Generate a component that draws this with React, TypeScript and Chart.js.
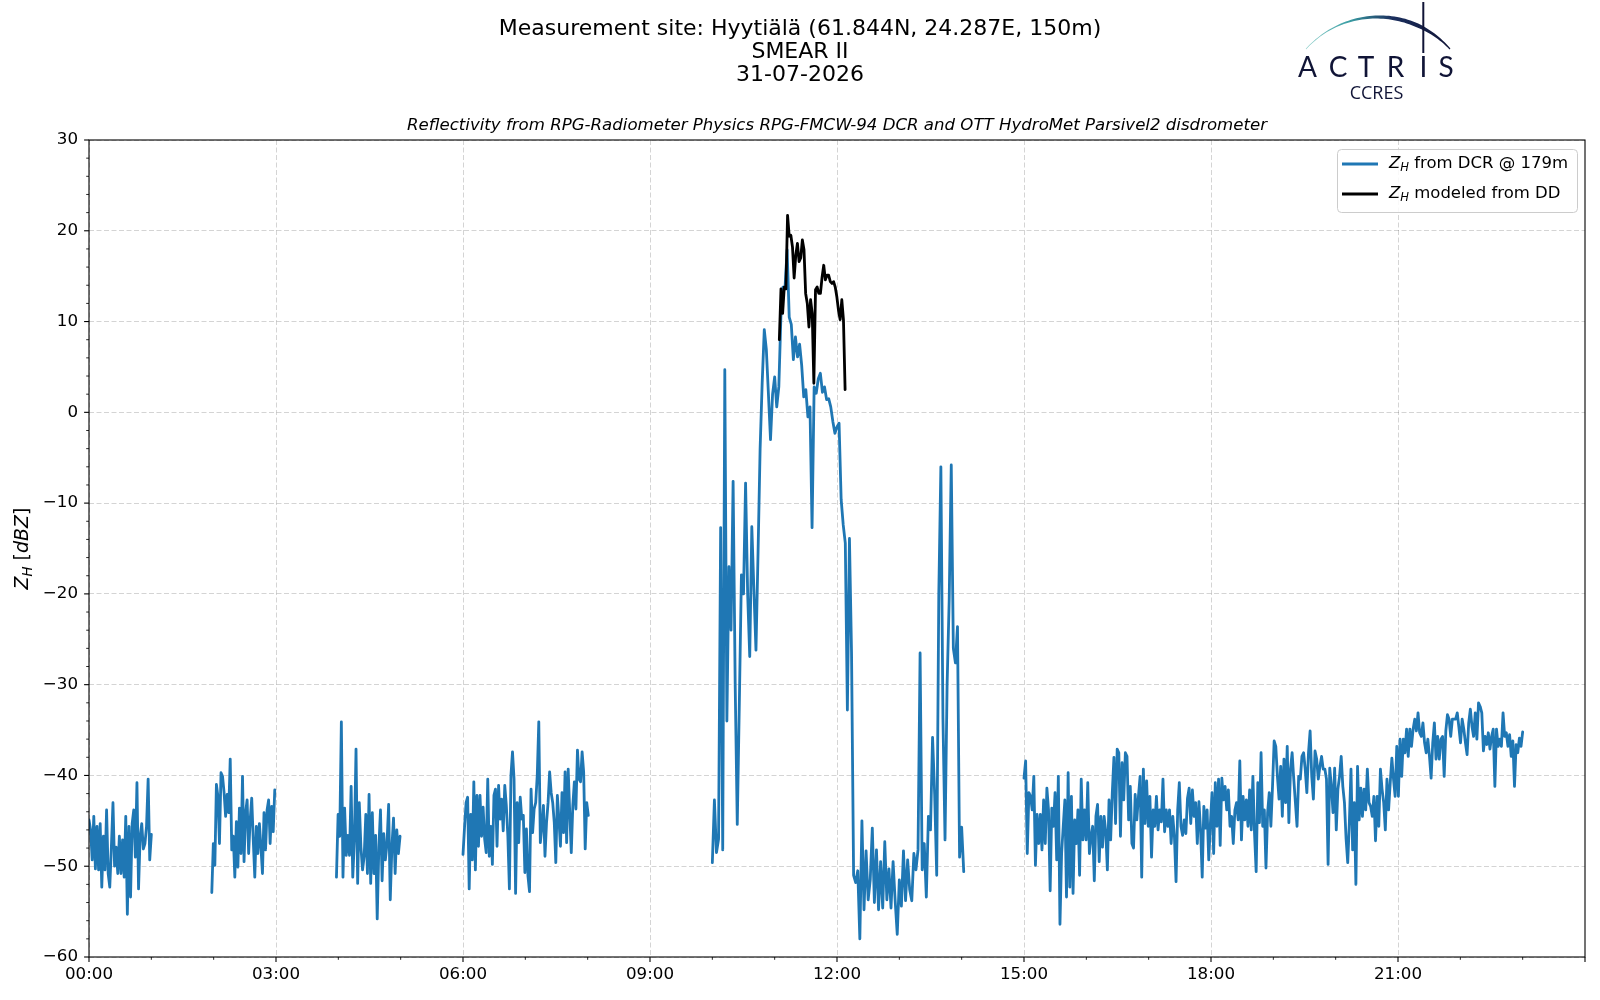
import * as React from "react";
import { useEffect, useRef } from "react";
import { Chart, registerables } from "chart.js";

const BLUE = "#1f77b4";
const NAVY = "#101436";
const FONT = '"DejaVu Sans", sans-serif';

// Z_H from the DCR (dBZ); each segment is [start hour, end hour] + evenly spaced samples
const dcrSeg1Hours = [0.0, 1.0];
const dcrSeg1 = [-44.9, -46, -49.3, -44.5, -50.3, -45.6, -50.4, -45.3, -52.3, -46.7, -50.4, -43.8, -50.8, -52.3, -47.9, -43, -50, -47.9, -50.8, -46.7, -50.8, -47.1, -51.2, -44.5, -55.3, -45.6, -53.4, -45.3, -43.8, -49, -40.8, -52.5, -46.7, -45.3, -48.1, -47.5, -45.6, -40.4, -49.3, -46.5];

const dcrSeg2Hours = [1.97, 2.98];
const dcrSeg2 = [-52.9, -47.5, -49.9, -41, -42.3, -47.5, -39.7, -40.1, -41.9, -44.5, -42.1, -44.1, -38.2, -48.2, -46.7, -51.2, -45.1, -50.1, -43.6, -48.6, -40.1, -49.5, -44.1, -42.7, -48.6, -44.9, -42.5, -47.1, -51.2, -45.6, -48.6, -45.3, -47.9, -50.8, -44.1, -48.2, -43.8, -42.7, -47.5, -43.4, -46.2, -41.6];

const dcrSeg3Hours = [3.97, 4.99];
const dcrSeg3 = [-51.2, -44.3, -46.7, -34.1, -51.2, -43.6, -48.8, -46.6, -48.8, -41.2, -51.2, -47.1, -37.1, -51.9, -43, -47.9, -50.4, -48.9, -44.3, -50.8, -42.1, -51.9, -44.1, -50.8, -46.6, -55.8, -47.9, -43.8, -51.6, -46.4, -49.3, -47.5, -43.2, -53.7, -47.9, -44.7, -50.8, -46, -48.6, -46.7];

const dcrSeg4Hours = [6.0, 8.01];
const dcrSeg4 = [-48.7, -45.7, -43, -42.4, -52.5, -44.3, -49.3, -40.7, -50.4, -42.2, -47.8, -42.2, -46.7, -43.5, -47, -48.5, -40.4, -48.9, -45.6, -49.8, -42.2, -41.5, -47.8, -41.1, -44.8, -42.6, -46.1, -41.1, -43.3, -46.7, -52.5, -40, -37.4, -40.4, -53, -43, -47.4, -42.4, -44.8, -44.4, -50.7, -45.9, -51.1, -52.8, -41.5, -46.3, -43.7, -43, -40, -34.1, -47.4, -45.6, -43.3, -48.9, -45.2, -43, -39.6, -41.9, -43, -45.2, -49.6, -42.2, -44.8, -47.8, -41.9, -46.3, -39.6, -47.4, -39.3, -44.1, -48.5, -43.3, -40.7, -43.7, -37.2, -40.4, -40.7, -37.4, -39.6, -48.1, -43, -44.4];

const dcrSeg5Hours = [10.0, 14.033];
const dcrSeg5 = [
  -49.6, -42.7, -48.5, -47, -12.7, -48.2, 4.7, -34, -17, -24,
  -7.6, -30, -45.4, -32, -17.9, -20, -7.8, -20, -26.9, -12.6,
  -19.5, -26.2, -15.5, -4, 3.3, 9.1, 6.9, 2, -3, 2,
  3.9, 0.6, 2.8, 10.5, 13.8, 13.8, 17.9, 10.5, 9.7, 5.8,
  8.3, 6.1, 7.5, 5.2, 1.7, 2.5, -0.5, 0.6, -12.7, 2.8,
  2.1, 3.7, 4.3, 2.2, 2.8, 1.4, 1.5, 0.6, -1, -2.3,
  -1.6, -1.2, -9.6, -12.4, -14.4, -32.8, -13.9, -26.5, -51, -51.8,
  -50.5, -58, -45, -54.8, -48.3, -53.7, -51.5, -45.8, -54, -48.2,
  -54.8, -49.5, -54.6, -47.3, -53.7, -50.3, -54.6, -49.5, -53.8, -57.5,
  -51.5, -54.4, -48.3, -53.8, -49.3, -52.6, -53.8, -48.6, -50.4, -48.2,
  -26.5, -50.4, -47.5, -53.4, -44.5, -46, -35.8, -42, -51, -20,
  -6, -33.7, -47.1, -30, -20.7, -5.8, -26, -27.6, -23.6, -49,
  -45.7, -50.6,
];

const dcrSeg6Hours = [15.0, 23.0];
const dcrSeg6 = [
  -40.3, -38.4, -48.6, -41.9, -42.3, -43.8, -40.1, -49.9, -44.3, -47.5, -44.3, -48.2, -42.7, -47.5, -41.4, -43.8, -52.7, -43.6, -45.6, -41.9,
  -49.3, -40.1, -56.4, -48.6, -45.6, -42.7, -53.4, -39.7, -52.3, -42.3, -53, -44.9, -47.5, -43.8, -51, -40.4, -47.1, -43.8, -47.1, -40.8,
  -48.6, -46.7, -45.6, -51.6, -44.5, -43.2, -49.5, -44.5, -47.9, -44.5, -46.2, -50.4, -42.7, -47.1, -41.9, -38, -45.3, -37.1, -37.5, -46.7,
  -38.6, -42.7, -37.5, -37.9, -44.9, -41.2, -47.5, -48, -42.1, -44.9, -42.3, -40.1, -51.2, -39.3, -45.3, -40.6, -45.6, -42.3, -49, -43.8,
  -45.6, -42.3, -46, -43.8, -45.1, -40.4, -46.2, -43.8, -45.6, -43.8, -47.5, -44.5, -46.7, -51.7, -43.8, -40.8, -45.6, -46.6, -44.9, -46.4,
  -42.5, -41.4, -45.3, -41.6, -44.5, -43, -47.5, -42.9, -46, -51.2, -43.4, -45.8, -43.8, -49.3, -45.3, -41.9, -48.6, -40.8, -45.6, -40.4,
  -47.7, -40.3, -42.7, -41.2, -43.8, -41.6, -45.6, -44.5, -47.5, -43.8, -43, -44.9, -38.4, -47.1, -42.3, -44.9, -42.7, -45.6, -41.6, -46,
  -40.1, -46.4,
  -50.6, -40.8, -45.2, -37.5, -45.6, -43.8, -50.2, -44.1, -41.9, -45.6, -41.2, -36.2, -36.8, -40.1, -42.6, -39, -44.5, -38.2, -43, -36.8,
  -45.2, -39.3, -37.5, -40.4, -43, -45.6, -40.1, -40.4, -37.9, -37.5, -39.3, -41.9, -37.5, -35.1, -40.1, -42.6, -37.3, -38.2, -40.4, -39,
  -37.9, -39.3, -39.3, -40.4, -49.8, -39.2, -41.2, -44.1, -39.2, -46, -41.5, -40.1, -37.9, -41.2, -43, -47, -49.6, -45.2, -39.3, -48.2,
  -43, -52, -39, -44.9, -41.4, -44.5, -41.5, -43.8, -39.3, -43, -43.4, -44.5, -42.3, -47.2, -42.3, -45.6, -39.3, -41.5, -43, -46,
  -40.4, -43.8, -40.8, -38.1, -40.4, -42.3, -36.8, -42.3, -36, -40.1, -36, -37.5, -34.9, -37.9, -34.9, -36.8, -34.9, -33.8, -35.1, -33.1,
  -35.3, -35.7, -34.2, -36.4, -37.5, -36, -37.9, -40.3, -36.4, -34.2, -38.2, -35.7, -38.2, -36, -35.7, -40.1, -35.1, -33.3, -33.8, -35.7,
  -33.8, -33.8, -33.8, -33.1, -34.7, -36.4, -33.8, -34.9, -36.4, -37.7, -34.2, -32.7, -34.6, -35.7, -33.1, -36, -32, -32.4, -33.1, -37.3,
  -35.7, -36.6, -35.3, -37.1, -35.7, -34.9, -41.2, -34.9, -36.8, -36, -36.8, -33.1, -35.7, -35.3,
  -36.8, -35.5, -37.9, -36.2, -41.2, -36.6, -37.5, -35.9, -36.8, -35.2,
];

// Z_H modeled from the disdrometer drop size distribution (dBZ)
const ddHours = [11.075, 12.13];
const ddValues = [8, 13.6, 10.9, 13.8, 13.6, 21.7, 19.4, 19.5, 18.2, 14.8, 17.3, 18.6, 16.6, 17, 19, 17.9, 13.1, 12, 9.4, 12.4, 10.9, 3.2, 13.5, 13.8, 13.1, 13.1, 14.9, 16.2, 14.6, 15.1, 15.1, 14.4, 14.2, 14.4, 13.8, 12.7, 11.2, 10.2, 12.4, 10.2, 2.5];

const xTickHours = [0, 3, 6, 9, 12, 15, 18, 21];
const yTicks = [-60, -50, -40, -30, -20, -10, 0, 10, 20, 30];

const titleLines = ["Measurement site: Hyytiälä (61.844N, 24.287E, 150m)", "SMEAR II", "31-07-2026"];
const subtitle = "Reflectivity from RPG-Radiometer Physics RPG-FMCW-94 DCR and OTT HydroMet Parsivel2 disdrometer";

type Pt = { x: number; y: number | null };

function spread(range: number[], values: number[]): Pt[] {
    const [a, b] = range;
    return values.map((v, i) => ({ x: a + ((b - a) * i) / (values.length - 1), y: v }));
}

function joinSegments(segs: Pt[][]): Pt[] {
    const out: Pt[] = [];
    segs.forEach((s, i) => {
        if (i > 0) out.push({ x: (out[out.length - 1].x + s[0].x) / 2, y: null });
        out.push(...s);
    });
    return out;
}

type Part = { t: string; it?: boolean; sub?: boolean };

function partFont(p: Part, size: number) {
    return `${p.it ? "italic " : ""}${p.sub ? size * 0.7 : size}px ${FONT}`;
}

function drawRich(ctx: CanvasRenderingContext2D, parts: Part[], x: number, y: number, size: number, align: "left" | "center") {
    const widths = parts.map((p) => {
        ctx.font = partFont(p, size);
        return ctx.measureText(p.t).width;
    });
    const total = widths.reduce((s, w) => s + w, 0);
    let cx = align === "center" ? x - total / 2 : x;
    ctx.textAlign = "left";
    ctx.textBaseline = "middle";
    parts.forEach((p, i) => {
        ctx.font = partFont(p, size);
        ctx.fillText(p.t, cx, y + (p.sub ? size * 0.24 : 0));
        cx += widths[i];
    });
}

function line(ctx: CanvasRenderingContext2D, x1: number, y1: number, x2: number, y2: number) {
    ctx.beginPath();
    ctx.moveTo(x1, y1);
    ctx.lineTo(x2, y2);
    ctx.stroke();
}

function drawLogo(ctx: CanvasRenderingContext2D) {
    // arc over the lettering, thickening toward the right
    const cx = 1378, cy = 114, r = 97;
    const a0 = Math.atan2(49 - cy, 1306 - cx);
    const a1 = Math.atan2(49 - cy, 1450 - cx);
    const outer: number[][] = [];
    const inner: number[][] = [];
    const n = 60;
    for (let i = 0; i <= n; i++) {
        const t = i / n;
        const a = a0 + (a1 - a0) * t;
        const w = 0.6 + 3.4 * Math.pow(Math.sin(Math.PI * Math.min(1, t / 0.75) * 0.5), 2) * (t > 0.75 ? 1 - (t - 0.75) / 0.3 : 1);
        outer.push([cx + (r + w / 2) * Math.cos(a), cy + (r + w / 2) * Math.sin(a)]);
        inner.push([cx + (r - w / 2) * Math.cos(a), cy + (r - w / 2) * Math.sin(a)]);
    }
    const g = ctx.createLinearGradient(1306, 0, 1450, 0);
    g.addColorStop(0, "#8fd0cb");
    g.addColorStop(0.3, "#3a9ea4");
    g.addColorStop(0.6, "#1b2f5e");
    g.addColorStop(1, NAVY);
    ctx.fillStyle = g;
    ctx.beginPath();
    outer.forEach(([x, y], i) => (i ? ctx.lineTo(x, y) : ctx.moveTo(x, y)));
    inner.reverse().forEach(([x, y]) => ctx.lineTo(x, y));
    ctx.closePath();
    ctx.fill();

    ctx.strokeStyle = NAVY;
    ctx.lineWidth = 2;
    line(ctx, 1423.3, 2, 1423.3, 53);

    ctx.fillStyle = NAVY;
    ctx.font = '28px Lato, "DejaVu Sans", sans-serif';
    ctx.textAlign = "center";
    ctx.textBaseline = "alphabetic";
    const letters = ["A", "C", "T", "R", "I", "S"];
    const centers = [1307.5, 1338, 1366, 1395.5, 1423.3, 1446];
    letters.forEach((l, i) => ctx.fillText(l, centers[i], 77));
    ctx.font = '18px "Open Sans", sans-serif';
    ctx.fillText("CCRES", 1376.5, 99);
}

const decorations = {
    id: "decorations",
    afterDraw(chart: any) {
        const { ctx, chartArea: a, scales } = chart;
        const xs = scales.x;
        const ys = scales.y;
        ctx.save();
        ctx.setLineDash([]);
        ctx.strokeStyle = "#000";

        // ticks: major every 3 h / 10 dBZ, minor every 1 h / 2 dBZ
        for (let h = 0; h <= 24; h++) {
            const x = xs.getPixelForValue(h);
            const major = h % 3 === 0;
            ctx.lineWidth = major ? 1.1 : 0.85;
            line(ctx, x, a.bottom, x, a.bottom + (major ? 4.9 : 2.8));
        }
        for (let v = -60; v <= 30; v += 2) {
            const y = ys.getPixelForValue(v);
            const major = v % 10 === 0;
            ctx.lineWidth = major ? 1.1 : 0.85;
            line(ctx, a.left, y, a.left - (major ? 4.9 : 2.8), y);
        }

        // frame
        ctx.lineWidth = 1.1;
        ctx.strokeRect(a.left, a.top, a.right - a.left, a.bottom - a.top);

        // titles
        ctx.fillStyle = "#000";
        ctx.textAlign = "center";
        ctx.textBaseline = "middle";
        ctx.font = `22px ${FONT}`;
        titleLines.forEach((t, i) => ctx.fillText(t, 800, 29.5 + i * 23));
        ctx.font = `italic 16.6px ${FONT}`;
        ctx.fillText(subtitle, (a.left + a.right) / 2, 126);

        // y label
        ctx.save();
        ctx.translate(23.5, (a.top + a.bottom) / 2);
        ctx.rotate(-Math.PI / 2);
        drawRich(ctx, [{ t: "Z", it: true }, { t: "H", it: true, sub: true }, { t: " [" }, { t: "dBZ", it: true }, { t: "]" }], 0, 0, 19, "center");
        ctx.restore();

        // legend
        const lx = 1337, ly = 149, lw = 240, lh = 63;
        ctx.fillStyle = "rgba(255,255,255,0.85)";
        ctx.strokeStyle = "#cccccc";
        ctx.lineWidth = 1;
        ctx.beginPath();
        ctx.roundRect(lx + 0.5, ly + 0.5, lw, lh, 4);
        ctx.fill();
        ctx.stroke();
        const rows = [
            { color: BLUE, parts: [{ t: "Z", it: true }, { t: "H", it: true, sub: true }, { t: " from DCR @ 179m" }] },
            { color: "#000", parts: [{ t: "Z", it: true }, { t: "H", it: true, sub: true }, { t: " modeled from DD" }] },
        ];
        rows.forEach((r, i) => {
            const y = 164 + i * 30;
            ctx.strokeStyle = r.color;
            ctx.lineWidth = 2.8;
            line(ctx, 1342, y, 1378, y);
            ctx.fillStyle = "#000";
            drawRich(ctx, r.parts, 1389, y, 16.5, "left");
        });

        drawLogo(ctx);
        ctx.restore();
    },
};

function App() {
    const canvasRef = useRef<HTMLCanvasElement>(null);
    useEffect(() => {
        const ctx = canvasRef.current?.getContext("2d");
        if (!ctx) return;
        Chart.register(...registerables);

        const dcrPoints = joinSegments([
            spread(dcrSeg1Hours, dcrSeg1),
            spread(dcrSeg2Hours, dcrSeg2),
            spread(dcrSeg3Hours, dcrSeg3),
            spread(dcrSeg4Hours, dcrSeg4),
            spread(dcrSeg5Hours, dcrSeg5),
            spread(dcrSeg6Hours, dcrSeg6),
        ]);
        const ddPoints = spread(ddHours, ddValues);

        const tickFont = { family: FONT, size: 16.7 };
        const gridStyle = { color: "rgba(0,0,0,0.17)", lineWidth: 1, drawTicks: false };
        const borderStyle = { display: false, dash: [5, 2.5] };

        const chart = new Chart(ctx, {
            type: "line",
            data: {
                datasets: [
                    { label: "Z_H modeled from DD", data: ddPoints as any, borderColor: "#000", borderWidth: 2.8, order: 0 },
                    { label: "Z_H from DCR @ 179m", data: dcrPoints as any, borderColor: BLUE, borderWidth: 2.8, order: 1, spanGaps: false },
                ],
            },
            options: {
                animation: false,
                responsive: true,
                maintainAspectRatio: false,
                layout: { padding: { top: 140, right: 15, left: 0, bottom: 0 } },
                elements: { point: { radius: 0 }, line: { tension: 0, borderJoinStyle: "round", borderCapStyle: "round" } },
                plugins: { legend: { display: false }, tooltip: { enabled: false }, title: { display: false } },
                scales: {
                    x: {
                        type: "linear",
                        min: 0,
                        max: 24,
                        afterBuildTicks: (s: any) => { s.ticks = xTickHours.map((v) => ({ value: v })); },
                        afterFit: (s: any) => { s.height = 43; },
                        grid: gridStyle,
                        border: borderStyle,
                        ticks: {
                            font: tickFont,
                            color: "#000",
                            padding: 8,
                            maxRotation: 0,
                            autoSkip: false,
                            callback: (v: any) => `${String(v).padStart(2, "0")}:00`,
                        },
                    },
                    y: {
                        type: "linear",
                        min: -60,
                        max: 30,
                        afterBuildTicks: (s: any) => { s.ticks = yTicks.map((v) => ({ value: v })); },
                        afterFit: (s: any) => { s.width = 89; },
                        grid: gridStyle,
                        border: borderStyle,
                        ticks: {
                            font: tickFont,
                            color: "#000",
                            padding: 11,
                            callback: (v: any) => (Number(v) < 0 ? "\u2212" + Math.abs(Number(v)) : String(v)),
                        },
                    },
                },
            },
            plugins: [decorations],
        });

        return () => {
            chart.destroy();
        };
    }, []);

    return (
        <div style={{ position: "fixed", left: 0, top: 0, width: 1600, height: 1000, background: "#fff" }}>
            <canvas ref={canvasRef}></canvas>
        </div>
    );
}

export default App;
